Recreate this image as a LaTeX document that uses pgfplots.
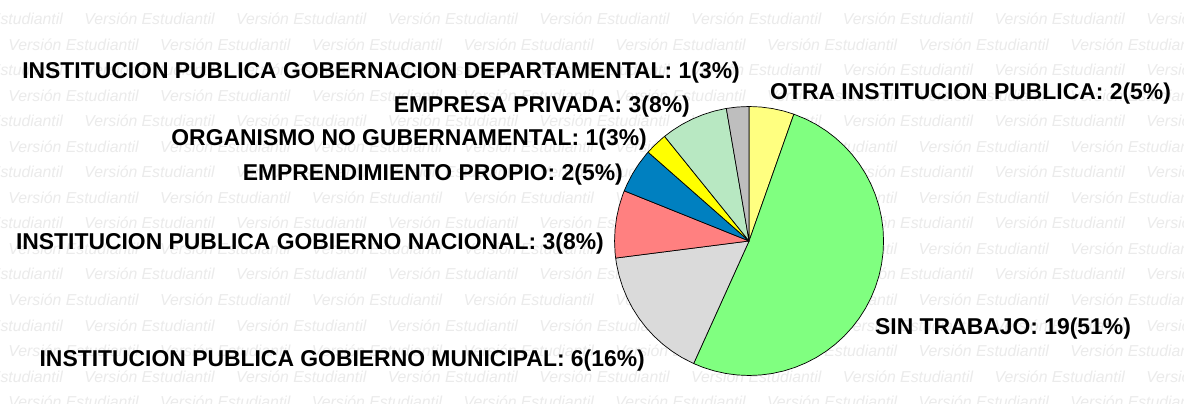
\documentclass[border=0pt]{standalone}
\usepackage{pgfplots}
\pgfplotsset{compat=1.18}
\usepgfplotslibrary{polar}
\usepackage{fontspec}
\setmainfont{Liberation Sans}

\definecolor{cOtra}{HTML}{FFFF80}
\definecolor{cSin}{HTML}{80FF80}
\definecolor{cMuni}{HTML}{DADADA}
\definecolor{cNac}{HTML}{FF8080}
\definecolor{cEmpr}{HTML}{0080C0}
\definecolor{cOrg}{HTML}{FFFF00}
\definecolor{cPriv}{HTML}{B8E8C2}
\definecolor{cDept}{HTML}{BEBEBE}

\newcommand{\lbl}{\fontsize{22.9}{24}\selectfont\bfseries}
\newcommand{\wm}{\fontsize{15.8}{16}\selectfont\itshape}

\begin{document}
\begin{tikzpicture}[x=1pt,y=1pt]
\useasboundingbox (0,0) rectangle (1184,404);
\fill[white] (0,0) rectangle (1184,404);
% watermark
\begin{scope}
\clip (0,0) rectangle (1184,404);
\foreach \k in {0,...,15} {
  \pgfmathsetmacro\yb{404-(24.5+25.55*\k)}
  \pgfmathsetmacro\xo{ifthenelse(mod(\k,2)==1,8.3,-67.55)}
  \foreach \j in {0,...,8} {
    \node[anchor=base west, inner sep=0pt, font=\wm, text=black!8]
      at (\xo+151.7*\j, \yb) {Versión Estudiantil};
  }
}
\end{scope}

% pie: 37 answers, clockwise from the top
\begin{axis}[
  at={(0,0)}, anchor=south west,
  scale only axis, width=1184pt, height=404pt,
  xmin=-749, xmax=435, ymin=-163, ymax=241,
  hide axis, clip=false,
  every axis plot/.append style={data cs=polar, no markers, draw=black, line width=0.7pt, line join=round}
]
% OTRA INSTITUCION PUBLICA: 2
\addplot[fill=cOtra] coordinates {(0,0) (90,134.5) (85,134.5) (80,134.5) (75,134.5) (70.541,134.5)} -- cycle;
% SIN TRABAJO: 19
\addplot[fill=cSin] coordinates {(0,0) (70.541,134.5) (65,134.5) (60,134.5) (55,134.5) (50,134.5) (45,134.5) (40,134.5) (35,134.5) (30,134.5) (25,134.5) (20,134.5) (15,134.5) (10,134.5) (5,134.5) (0,134.5) (-5,134.5) (-10,134.5) (-15,134.5) (-20,134.5) (-25,134.5) (-30,134.5) (-35,134.5) (-40,134.5) (-45,134.5) (-50,134.5) (-55,134.5) (-60,134.5) (-65,134.5) (-70,134.5) (-75,134.5) (-80,134.5) (-85,134.5) (-90,134.5) (-95,134.5) (-100,134.5) (-105,134.5) (-110,134.5) (-114.324,134.5)} -- cycle;
% GOBIERNO MUNICIPAL: 6
\addplot[fill=cMuni] coordinates {(0,0) (-114.324,134.5) (-120,134.5) (-125,134.5) (-130,134.5) (-135,134.5) (-140,134.5) (-145,134.5) (-150,134.5) (-155,134.5) (-160,134.5) (-165,134.5) (-170,134.5) (-172.703,134.5)} -- cycle;
% GOBIERNO NACIONAL: 3
\addplot[fill=cNac] coordinates {(0,0) (-172.703,134.5) (-175,134.5) (-180,134.5) (-185,134.5) (-190,134.5) (-195,134.5) (-200,134.5) (-201.892,134.5)} -- cycle;
% EMPRENDIMIENTO PROPIO: 2
\addplot[fill=cEmpr] coordinates {(0,0) (-201.892,134.5) (-205,134.5) (-210,134.5) (-215,134.5) (-220,134.5) (-221.351,134.5)} -- cycle;
% ORGANISMO NO GUBERNAMENTAL: 1
\addplot[fill=cOrg] coordinates {(0,0) (-221.351,134.5) (-225,134.5) (-230,134.5) (-231.081,134.5)} -- cycle;
% EMPRESA PRIVADA: 3
\addplot[fill=cPriv] coordinates {(0,0) (-231.081,134.5) (-235,134.5) (-240,134.5) (-245,134.5) (-250,134.5) (-255,134.5) (-260,134.5) (-260.270,134.5)} -- cycle;
% GOBERNACION DEPARTAMENTAL: 1
\addplot[fill=cDept] coordinates {(0,0) (-260.270,134.5) (-265,134.5) (-270,134.5)} -- cycle;
\end{axis}

% labels
\begin{scope}[every node/.style={inner sep=0pt, font=\lbl}]
\node[anchor=base east] at (740,325) {INSTITUCION PUBLICA GOBERNACION DEPARTAMENTAL: 1(3\%)};
\node[anchor=base east] at (690,291) {EMPRESA PRIVADA: 3(8\%)};
\node[anchor=base west] at (770,304) {OTRA INSTITUCION PUBLICA: 2(5\%)};
\node[anchor=base east] at (647,258) {ORGANISMO NO GUBERNAMENTAL: 1(3\%)};
\node[anchor=base east] at (623,223) {EMPRENDIMIENTO PROPIO: 2(5\%)};
\node[anchor=base east] at (604,154) {INSTITUCION PUBLICA GOBIERNO NACIONAL: 3(8\%)};
\node[anchor=base west] at (875,69) {SIN TRABAJO: 19(51\%)};
\node[anchor=base east] at (645,37) {INSTITUCION PUBLICA GOBIERNO MUNICIPAL: 6(16\%)};
\end{scope}
\end{tikzpicture}
\end{document}
